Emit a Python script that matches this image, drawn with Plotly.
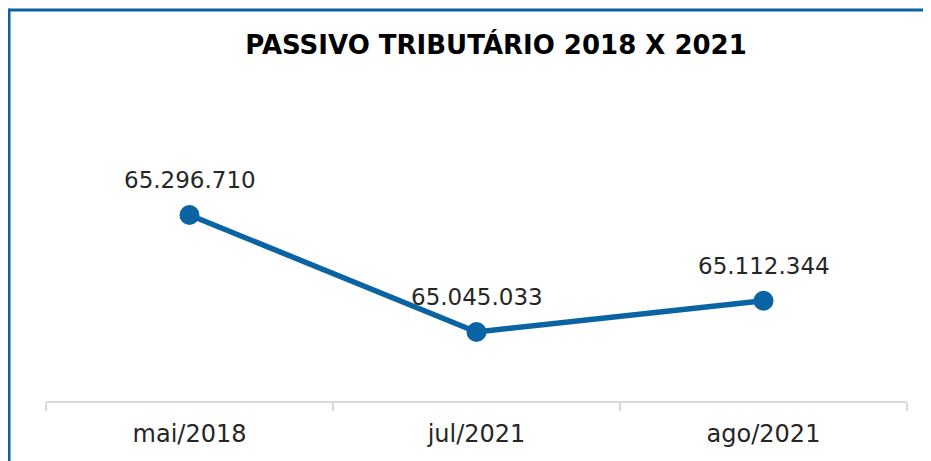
import plotly.graph_objects as go

meses = ["mai/2018", "jul/2021", "ago/2021"]
passivo = [65296710, 65045033, 65112344]
rotulos = ["65.296.710", "65.045.033", "65.112.344"]

azul = "#0A64A4"

# a página tem 8px de margem no body; tudo é deslocado 8px para compensar
L, T, R, B = 38, 52, 899, 393
W, H = 931, 461

fig = go.Figure()
fig.add_trace(go.Scatter(
    x=meses, y=passivo,
    mode="lines+markers",
    line=dict(color=azul, width=5.5),
    marker=dict(color=azul, size=20),
    cliponaxis=False,
    hoverinfo="skip",
))

for m, v, t in zip(meses, passivo, rotulos):
    fig.add_annotation(x=m, y=v, text=t, showarrow=False, yshift=35,
                       font=dict(size=23, color="#262626", family="DejaVu Sans"))

fig.update_layout(
    width=W, height=H,
    margin=dict(l=L, r=W - R, t=T, b=H - B),
    paper_bgcolor="white", plot_bgcolor="white",
    showlegend=False,
    title=dict(text="<b>PASSIVO TRIBUTÁRIO 2018 X 2021</b>",
               x=488 / W, xanchor="center", y=1 - 37 / H, yanchor="middle",
               font=dict(size=26, color="black", family="DejaVu Sans")),
    font=dict(family="DejaVu Sans", color="#262626"),
)
fig.update_xaxes(
    range=[-0.5, 2.5], showgrid=False, showline=True, linecolor="#d9d9d9", linewidth=2,
    ticks="outside", tickson="boundaries", ticklen=8, tickcolor="#d9d9d9", tickwidth=2,
    tickfont=dict(size=24, color="#262626"), ticklabelstandoff=10,
)
fig.update_yaxes(range=[64896600, 65630115], visible=False)

pw, ph = R - L, B - T
# moldura azul (topo e esquerda)
fig.add_shape(type="line", xref="paper", yref="paper",
              x0=(1 - L) / pw, x1=(W + 10 - L) / pw,
              y0=(B - 2) / ph, y1=(B - 2) / ph,
              line=dict(color=azul, width=3))
fig.add_shape(type="line", xref="paper", yref="paper",
              x0=(1 - L) / pw, x1=(1 - L) / pw,
              y0=(B - 0.5) / ph, y1=(B - H - 10) / ph,
              line=dict(color=azul, width=3))

fig.write_html("out.html")
